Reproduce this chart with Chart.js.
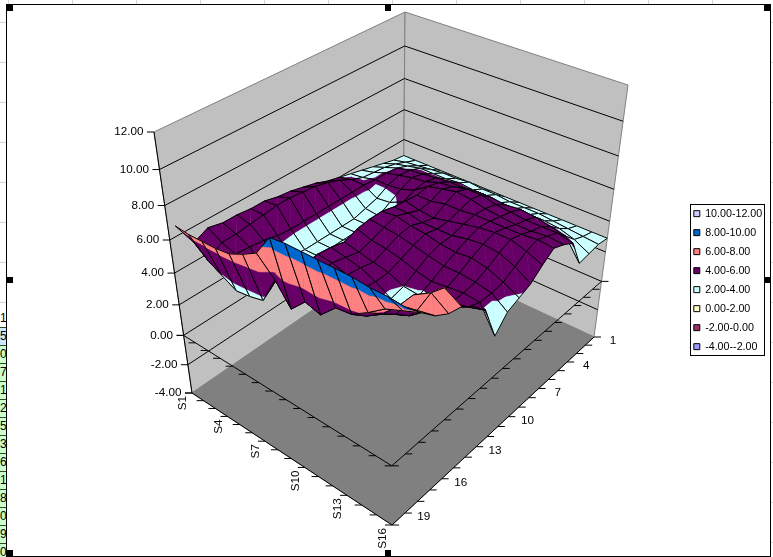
<!DOCTYPE html>
<html><head><meta charset="utf-8">
<script src="https://cdn.jsdelivr.net/npm/chart.js@4/dist/chart.umd.min.js"></script>
<style>
html,body{margin:0;padding:0;background:#fff;overflow:hidden}
#sheet{position:absolute;left:0;top:0;width:773px;height:557px;overflow:hidden;
background-image:repeating-linear-gradient(to bottom,transparent 0 22px,#d4d8d4 22px 23px,transparent 23px 40px),repeating-linear-gradient(to right,transparent 0 8px,#d4d8d4 8px 9px,transparent 9px 64px)}
#plotbg{position:absolute;left:6px;top:4px;width:764px;height:552px;background:#fff;border:0}
#frame{position:absolute;left:6px;top:4px;width:763px;height:551px;border:1px solid #000;pointer-events:none}
canvas{position:absolute;left:0;top:0}
.h{position:absolute;width:6px;height:6px;background:#000}
.c{position:absolute;left:0;width:6px;height:17px;overflow:hidden;border-bottom:1px solid #2a4a2a;font:12px/17px "Liberation Sans";text-align:right;color:#000;background:#ccffcc}
</style></head><body>
<div id="sheet"></div><div id="plotbg"></div>
<canvas id="c" width="773" height="557"></canvas>
<div id="frame"></div>
<script>
const categoryTicks=[1,4,7,10,13,16,19];
const seriesTicks=["S1","S4","S7","S10","S13","S16"];
const valueTicks=[12,10,8,6,4,2,0,-2,-4];
const bandLows=[10,8,6,4,2,0,-2,-4];
const bandColors=["#CCCCFF","#0066CC","#FF8080","#660066","#CCFFFF","#FFFFCC","#993366","#9999FF"];
const bandLabels=["10.00-12.00","8.00-10.00","6.00-8.00","4.00-6.00","2.00-4.00","0.00-2.00","-2.00-0.00","-4.00--2.00"];
const S1=[2.9,3.0,3.2,3.4,3.6,3.8,4.0,4.2,4.5,4.7,4.9,5.0,5.2,5.2,5.3,5.3,5.5,5.1,6.6];
const S2=[2.9,3.2,3.5,3.7,3.8,3.9,4.2,4.6,4.9,5.1,5.2,5.3,5.3,5.2,5.1,5.0,5.0,4.4,6.5];
const S3=[2.9,3.3,3.7,4.0,4.1,4.1,4.2,4.2,4.2,4.2,4.2,4.2,4.2,4.3,4.5,4.6,4.7,3.9,6.5];
const S4=[2.9,3.4,3.9,4.2,4.3,4.1,3.7,3.5,3.3,3.3,3.3,3.3,3.3,3.4,3.5,3.7,4.2,3.4,6.5];
const S5=[2.9,3.5,3.9,4.3,4.5,4.2,3.8,3.4,3.3,3.3,3.3,3.3,3.3,3.4,3.5,3.7,4.2,3.5,6.6];
const S6=[2.9,3.5,3.9,4.4,4.6,4.5,4.2,3.9,3.8,3.8,3.8,3.9,3.9,3.9,3.9,4.0,4.4,3.7,7.0];
const S7=[2.9,3.6,4.0,4.5,4.9,5.1,5.0,5.1,5.2,5.4,5.4,5.3,5.0,5.2,5.3,5.2,5.0,5.4,7.5];
const S8=[2.9,3.5,3.9,4.5,5.0,5.3,5.0,4.9,5.2,5.5,5.3,5.0,4.8,5.0,5.2,5.1,4.9,4.1,8.8];
const S9=[2.9,3.5,3.9,4.6,5.2,5.5,5.2,4.8,5.0,5.3,5.2,4.9,4.6,4.8,4.9,4.9,4.8,5.0,8.9];
const S10=[2.9,3.4,3.8,4.6,5.2,5.4,5.2,5.0,5.0,5.2,5.0,4.7,4.4,4.4,4.5,4.6,4.7,4.7,8.9];
const S11=[2.9,3.4,3.8,4.5,5.0,5.2,5.3,5.2,5.0,5.0,4.8,4.4,4.0,3.8,4.0,4.4,4.8,5.6,8.9];
const S12=[2.9,3.4,3.8,4.6,4.9,5.1,5.3,5.4,5.2,4.9,4.6,4.2,3.9,3.7,3.9,4.5,5.0,5.7,8.9];
const S13=[2.9,3.3,3.8,4.5,4.8,5.0,5.3,5.5,5.3,5.0,4.6,4.3,4.0,3.9,4.3,5.0,5.6,6.3,8.9];
const S14=[2.9,3.2,3.7,4.3,4.8,5.0,5.3,5.5,5.2,4.8,4.5,4.4,4.4,4.6,5.5,6.6,6.6,7.0,8.8];
const S15=[2.9,3.1,3.4,4.1,4.8,5.1,5.4,5.2,4.8,4.4,4.3,4.3,4.6,5.2,6.9,7.2,6.8,7.4,8.8];
const S16=[2.9,3.0,2.9,2.8,4.6,5.0,5.3,4.8,4.2,3.9,3.6,2.7,4.9,5.7,6.3,6.5,7.0,7.8,8.7];
const surface=[S1,S2,S3,S4,S5,S6,S7,S8,S9,S10,S11,S12,S13,S14,S15,S16];

// sheet fragments behind the chart
const sheet=document.getElementById('sheet');
const cellDigits=["0","7","1","2","5","3","6","1","8","0","9","0"];
function cell(top,txt,bg){const d=document.createElement('div');d.className='c';d.style.top=top+'px';d.style.background=bg;d.textContent=txt;sheet.appendChild(d);}
cell(310,"1","#fff");cell(328,"5","#cce8ff");
cellDigits.forEach((t,k)=>cell(346+18*k,t,"#ccffcc"));
[[7,5],[385,5],[764,5],[7,277],[765,277],[7,550],[385,550]].forEach(p=>{const d=document.createElement('div');d.className='h';d.style.left=p[0]+'px';d.style.top=p[1]+'px';document.body.appendChild(d);});

// projection box
function homog(p0,p1,p2,p3){
  const [x0,y0]=p0,[x1,y1]=p1,[x2,y2]=p2,[x3,y3]=p3;
  const dx1=x1-x2,dx2=x3-x2,sx=x0-x1+x2-x3,dy1=y1-y2,dy2=y3-y2,sy=y0-y1+y2-y3;
  const den=dx1*dy2-dx2*dy1,g=(sx*dy2-dx2*sy)/den,h=(dx1*sy-sx*dy1)/den;
  const a=x1-x0+g*x1,b=x3-x0+h*x3,d=y1-y0+g*y1,e=y3-y0+h*y3;
  return (u,v)=>{const w=g*u+h*v+1;return [(a*u+b*v+x0)/w,(d*u+e*v+y0)/w];};
}
const floorH=homog([403,248],[594,337],[392,525],[192,393]);
const topH=homog([405,12],[628,85],[391,257],[154,132]);
const R=0.85;
function P(u,v,z){
  const w=(z+4)/16,t=w*R/(1+w*(R-1));
  const f=floorH(u,v),c=topH(u,v);
  return {x:f[0]+(c[0]-f[0])*t,y:f[1]+(c[1]-f[1])*t};
}
const nI=surface.length,nV=19;
const ds=[];
function add(points,o){
  ds.push({data:points,showLine:true,pointRadius:0,pointHoverRadius:0,tension:0,
    borderColor:o.stroke||o.fill||'#000',borderWidth:o.width===undefined?1:o.width,
    backgroundColor:o.fill||'transparent',fill:o.fill?'shape':false,order:-ds.length,clip:false,
    borderJoinStyle:'round'});
}
const close=a=>a.concat([a[0]]);
// walls and floor
add(close([P(0,1,-4),P(0,0,-4),P(0,0,12),P(0,1,12)]),{fill:'#C0C0C0',stroke:'#808080'});
add(close([P(0,0,-4),P(1,0,-4),P(1,0,12),P(0,0,12)]),{fill:'#C0C0C0',stroke:'#808080'});
add(close([P(0,0,-4),P(1,0,-4),P(1,1,-4),P(0,1,-4)]),{fill:'#808080',stroke:'#808080'});
valueTicks.forEach(z=>{ if(z>-4&&z<12) add([P(0,1,z),P(0,0,z),P(1,0,z)],{stroke:'#000'}); });
add([P(0,1,-4),P(0,1,12)],{stroke:'#000'});
add([P(0,1,-4),P(1,1,-4),P(1,0,-4)],{stroke:'#000'});
add([P(0,1,0),P(1,1,0),P(1,0,0)],{stroke:'#000'});
const shift=(p,dx)=>({x:p.x+dx,y:p.y});
valueTicks.forEach(z=>{const p=P(0,1,z);add([shift(p,-7),p],{stroke:'#000'});});
[-4,0].forEach(z=>{
  for(let i=0;i<nI;i++){const p=P(i/(nI-1),1,z);add([shift(p,-7),p],{stroke:'#000'});}
  for(let j=0;j<=nV;j++){const p=P(1,j/nV,z);add([p,shift(p,7)],{stroke:'#000'});}
});
// surface cells split into contour bands
function clip(poly,lim,keepAbove){
  const out=[];
  for(let k=0;k<poly.length;k++){
    const a=poly[k],b=poly[(k+1)%poly.length];
    const ia=keepAbove?a[2]>=lim:a[2]<=lim, ib=keepAbove?b[2]>=lim:b[2]<=lim;
    if(ia)out.push(a);
    if(ia!==ib){const t=(lim-a[2])/(b[2]-a[2]);out.push([a[0]+t*(b[0]-a[0]),a[1]+t*(b[1]-a[1]),lim]);}
  }
  return out;
}
function PS(q){return P(q[0],q[1]*(1+0.03*(1-q[0])),q[2]);}
for(let i=0;i<nI-1;i++){
  for(let j=0;j<surface[i].length-1;j++){
    const c=[[i,j],[i+1,j],[i+1,j+1],[i,j+1]].map(q=>[q[0]/(nI-1),q[1]/nV,surface[q[0]][q[1]]]);
    [[c[0],c[1],c[2]],[c[0],c[2],c[3]]].forEach(tri=>{
      bandLows.forEach((lo,b)=>{
        let poly=clip(tri,lo,true);
        if(poly.length>=3)poly=clip(poly,lo+2,false);
        if(poly.length>=3)add(close(poly.map(PS)),{fill:bandColors[b],stroke:bandColors[b],width:0.5});
      });
    });
    add(close(c.map(PS)),{stroke:'#000',width:1});
  }
}
const labelPlugin={id:'labels',
  afterLayout(chart){
    const l=chart.legend;l.left=685.5;l.right=775;l.top=200;l.bottom=520;l.width=89.5;l.height=320;
    l.adjustHitBoxes&&l.adjustHitBoxes();
  },
  afterDraw(chart){
    const g=chart.ctx,xs=chart.scales.x,ys=chart.scales.y;
    g.save();g.fillStyle='#000';g.font='11.7px "Liberation Sans"';
    g.textAlign='right';g.textBaseline='middle';
    valueTicks.forEach(z=>{const p=P(0,1,z);g.fillText(z.toFixed(2),xs.getPixelForValue(p.x)-10.5,ys.getPixelForValue(p.y));});
    g.textAlign='center';
    categoryTicks.forEach(n=>{const p=P(1,(n-1)/nV,-4);g.fillText(String(n),xs.getPixelForValue(p.x)+19,ys.getPixelForValue(p.y)+4);});
    seriesTicks.forEach(s=>{const n=+s.slice(1),p=P((n-1)/(nI-1),1,-4);
      g.save();g.translate(xs.getPixelForValue(p.x)-9,ys.getPixelForValue(p.y)+3);g.rotate(-Math.PI/2);
      g.textAlign='right';g.fillText(s,0,0);g.restore();});
    g.strokeStyle='#000';g.lineWidth=1;g.strokeRect(690.5,204.5,74,151);
    g.restore();
  }};
new Chart(document.getElementById('c'),{type:'scatter',data:{datasets:ds},plugins:[labelPlugin],
  options:{responsive:false,animation:false,devicePixelRatio:1,events:[],layout:{padding:0},
    scales:{x:{type:'linear',min:0,max:773,display:false},y:{type:'linear',min:0,max:557,reverse:true,display:false}},
    plugins:{tooltip:{enabled:false},
      legend:{display:true,position:'chartArea',align:'start',
        labels:{boxWidth:6,boxHeight:6,padding:8.3,color:'#000',font:{family:'Liberation Sans',size:10.7},
          generateLabels:()=>bandLabels.map((t,k)=>({text:t,fillStyle:bandColors[k],strokeStyle:'#000',lineWidth:1,hidden:false,datasetIndex:0}))}}}}});
</script></body></html>
